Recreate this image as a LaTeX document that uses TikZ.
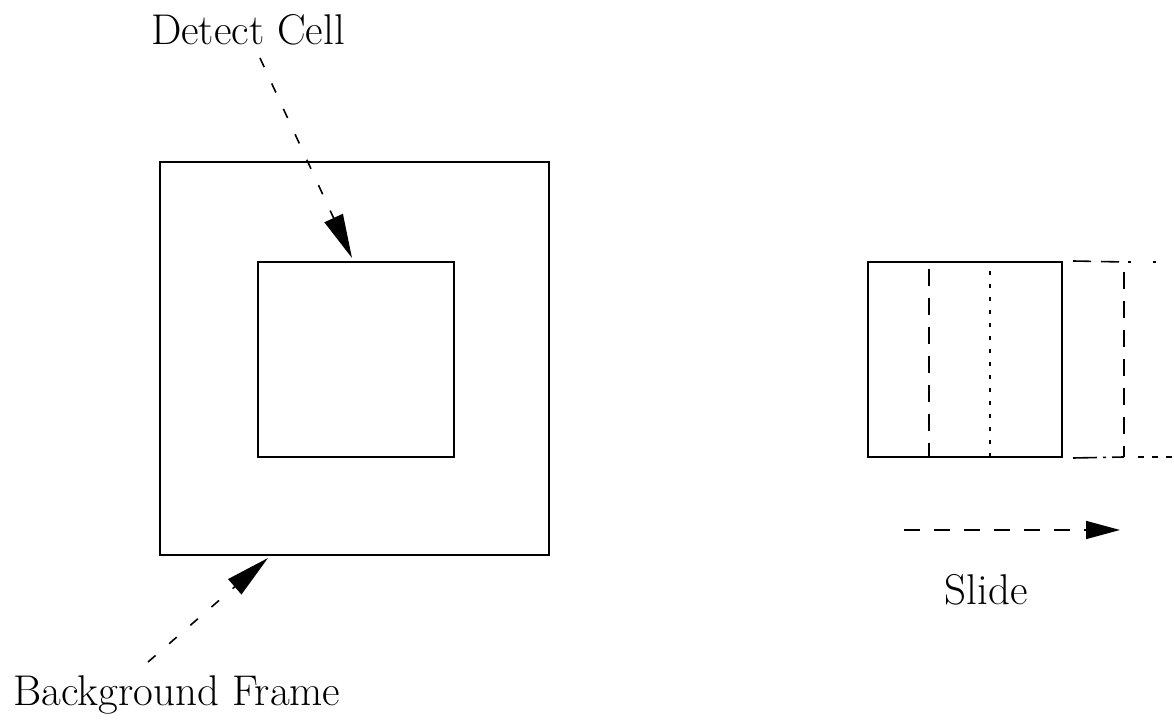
\documentclass[tikz,border=0pt]{standalone}
\usetikzlibrary{arrows.meta}
\begin{document}
\begin{tikzpicture}[x=0.5pt,y=-0.5pt,
  box/.style={draw,line width=1pt,inner sep=0pt},
  lbl/.style={font=\fontsize{21.5}{25}\selectfont,inner sep=0pt},
  pointer/.style={line width=0.8pt,dash pattern=on 5pt off 9pt,
    -{Triangle[length=22pt,width=10pt]}},
  slide/.style={line width=0.8pt,dash pattern=on 8pt off 7pt,
    -{Triangle[length=17pt,width=9pt]}}]
\useasboundingbox (0,0) rectangle (1174,726);

% frame with the detect cell inside
\node[box,minimum width=194.5pt,minimum height=196.5pt] (outer) at (354.5,358.5) {};
\node[box,minimum width=98pt,minimum height=97.5pt] (inner) at (356,359.5) {};

% labels and their pointers
\node[lbl] (dc) at (248,30) {Detect Cell};
\node[lbl] (bf) at (177,695) {Background Frame};
\coordinate (dcs) at (260,58);
\coordinate (dct) at (352,258);
\coordinate (bfs) at (148,662);
\coordinate (bft) at (268,558);
\draw[pointer] (dcs) -- (dct);
\draw[pointer] (bfs) -- (bft);

% sliding cell
\node[box,minimum width=97pt,minimum height=97.5pt] (cell) at (965,359.5) {};
\draw[line width=0.8pt,dash pattern=on 8.5pt off 6pt]
  ([xshift=-18pt]cell.north) ++(0,8) -- ([xshift=-18pt]cell.south);
\draw[line width=0.8pt,dash pattern=on 2pt off 4.5pt]
  ([xshift=12.5pt]cell.north) ++(0,10) -- ([xshift=12.5pt]cell.south) ++(0,-6);

% next position of the cell, cut off at the edge
\coordinate (ne) at (1174,262);
\coordinate (se) at (1174,457);
\coordinate (nm) at (1124,262);
\coordinate (sm) at (1124,457);
\draw[line width=0.8pt,dash pattern=on 9pt off 5pt] ([xshift=5pt]cell.north east) -- (nm);
\draw[line width=0.8pt,dash pattern=on 1.5pt off 11pt] ([xshift=2pt]nm) -- (ne);
\draw[line width=0.8pt,dash pattern=on 12pt off 3pt on 1.5pt off 3pt] ([xshift=5pt]cell.south east) -- (sm);
\draw[line width=0.8pt,dash pattern=on 3pt off 4pt] ([xshift=7pt]sm) -- (se);
\draw[line width=0.8pt,dash pattern=on 8.5pt off 6pt] ([yshift=-5pt]nm) -- (sm);

% slide direction
\coordinate (ss) at (904,530);
\coordinate (st) at (1120,530);
\draw[slide] (ss) -- (st);
\node[lbl] (sl) at (986,590) {Slide};
\end{tikzpicture}
\end{document}
